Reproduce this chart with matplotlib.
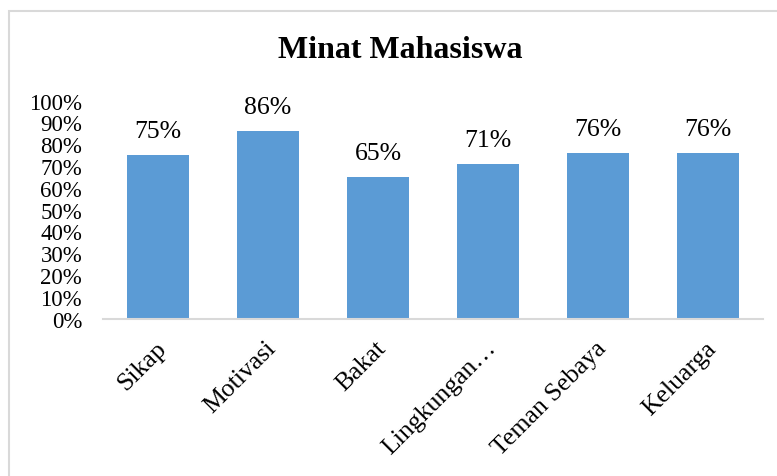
import numpy as np
import matplotlib
matplotlib.use("Agg")
import matplotlib.pyplot as plt
from matplotlib.patches import Rectangle
from matplotlib.ticker import PercentFormatter
import matplotlib.transforms as mtrans

# data
categories = ["Sikap", "Motivasi", "Bakat", "Lingkungan…", "Teman Sebaya", "Keluarga"]
values = [0.75, 0.86, 0.65, 0.71, 0.76, 0.76]
yticks = np.arange(0, 1.01, 0.1)

plt.rcParams['font.family'] = ['Liberation Serif', 'DejaVu Serif']

fig = plt.figure(figsize=(7.77, 4.77), dpi=100)

# outer chart frame (right/bottom run off the picture)
frame = Rectangle((9 / 777, -0.1), 1.2, 1 - 12 / 477 + 0.1, transform=fig.transFigure,
                  fill=False, edgecolor='#d9d9d9', linewidth=1.5)
fig.patches.append(frame)

ax = fig.add_axes([103 / 777, 1 - 319.6 / 477, 660 / 777, 218 / 477])

x = np.arange(len(categories))
bars = ax.bar(x, values, width=0.57, color='#5b9bd5')

for xi, v in zip(x, values):
    ax.annotate(f"{v:.0%}", (xi, v), xytext=(0, 13), textcoords='offset points',
                ha='center', va='baseline', fontsize=18.5)

ax.set_xlim(-0.5, len(categories) - 0.5)
ax.set_ylim(0, 1)
ax.set_yticks(yticks)
ax.yaxis.set_major_formatter(PercentFormatter(1.0, decimals=0))
ax.tick_params(axis='y', length=0, pad=15, labelsize=16.5)

ax.set_xticks(x)
ax.set_xticklabels(categories, rotation=45, ha='right', va='top',
                   rotation_mode='anchor', fontsize=18.5)
ax.tick_params(axis='x', length=0, pad=13)
offset = mtrans.ScaledTranslation(-3 / 100, 0, fig.dpi_scale_trans)
for lab in ax.get_xticklabels():
    lab.set_transform(lab.get_transform() + offset)

for side in ['top', 'right', 'left']:
    ax.spines[side].set_visible(False)
ax.spines['bottom'].set_color('#d9d9d9')
ax.spines['bottom'].set_linewidth(1.5)

fig.text(400 / 777, 1 - 50 / 477, "Minat Mahasiswa", ha='center', va='center',
         fontsize=23, fontweight='bold')

fig.savefig("out.png", dpi=100)
